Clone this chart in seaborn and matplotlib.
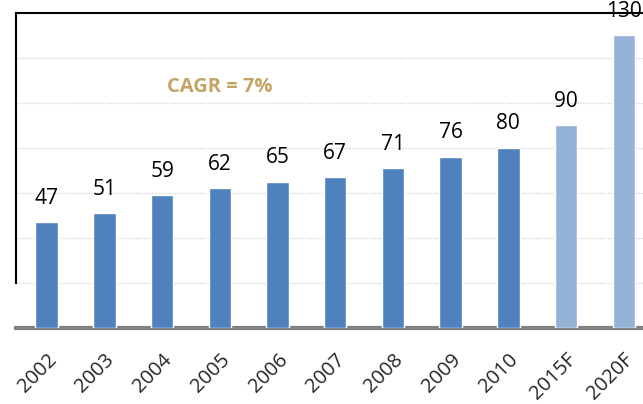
import pandas as pd
import numpy as np
import seaborn as sns
import matplotlib.pyplot as plt

years = ['2002', '2003', '2004', '2005', '2006', '2007', '2008', '2009', '2010', '2015F', '2020F']
values = [47, 51, 59, 62, 65, 67, 71, 76, 80, 90, 130]
kind = ['actual'] * 9 + ['forecast'] * 2

df = pd.DataFrame({'year': years, 'value': values, 'kind': kind})

sns.set_style('white')
plt.rcParams['font.family'] = ['Open Sans', 'DejaVu Sans']

fig = plt.figure(figsize=(6.43, 4.04), dpi=100)
ax = fig.add_axes([0.025, 0.188, 0.99, 0.780])

sns.barplot(data=df, x='year', y='value', hue='kind', dodge=False, legend=False,
            palette={'actual': '#4F81BD', 'forecast': '#95B3D7'}, width=0.39,
            saturation=1, ax=ax, zorder=3)

ax.set_ylim(0, 140)
ax.set_xlim(-0.53, 10.5)
ax.set_yticks(range(20, 140, 20))
ax.yaxis.grid(True, color='#d8d8d8', linestyle=(0, (1, 1)), linewidth=1)
ax.set_axisbelow(True)
ax.tick_params(axis='y', left=False, labelleft=False)

# value labels above each bar
for i, v in enumerate(values):
    ax.text(i, v + 6, str(v), ha='center', va='bottom', fontsize=15, color='black', zorder=5)

ax.text(3.0, 107, 'CAGR = 7%', ha='center', va='center', fontsize=14.5, fontweight='bold', color='#C4A465')

ax.set_xlabel('')
ax.set_ylabel('')
ax.set_xticks(range(len(years)))
ax.set_xticklabels(years, rotation=45, ha='right', rotation_mode='anchor', fontsize=14.5)
ax.tick_params(axis='x', bottom=False, pad=12)

ax.spines['right'].set_visible(False)
ax.spines['top'].set_color('black')
ax.spines['top'].set_linewidth(1.5)
ax.spines['left'].set_color('black')
ax.spines['left'].set_linewidth(1.5)
ax.spines['left'].set_bounds(20, 140)
ax.spines['bottom'].set_color('#808080')
ax.spines['bottom'].set_linewidth(3)

fig.savefig('out.png', dpi=100)
